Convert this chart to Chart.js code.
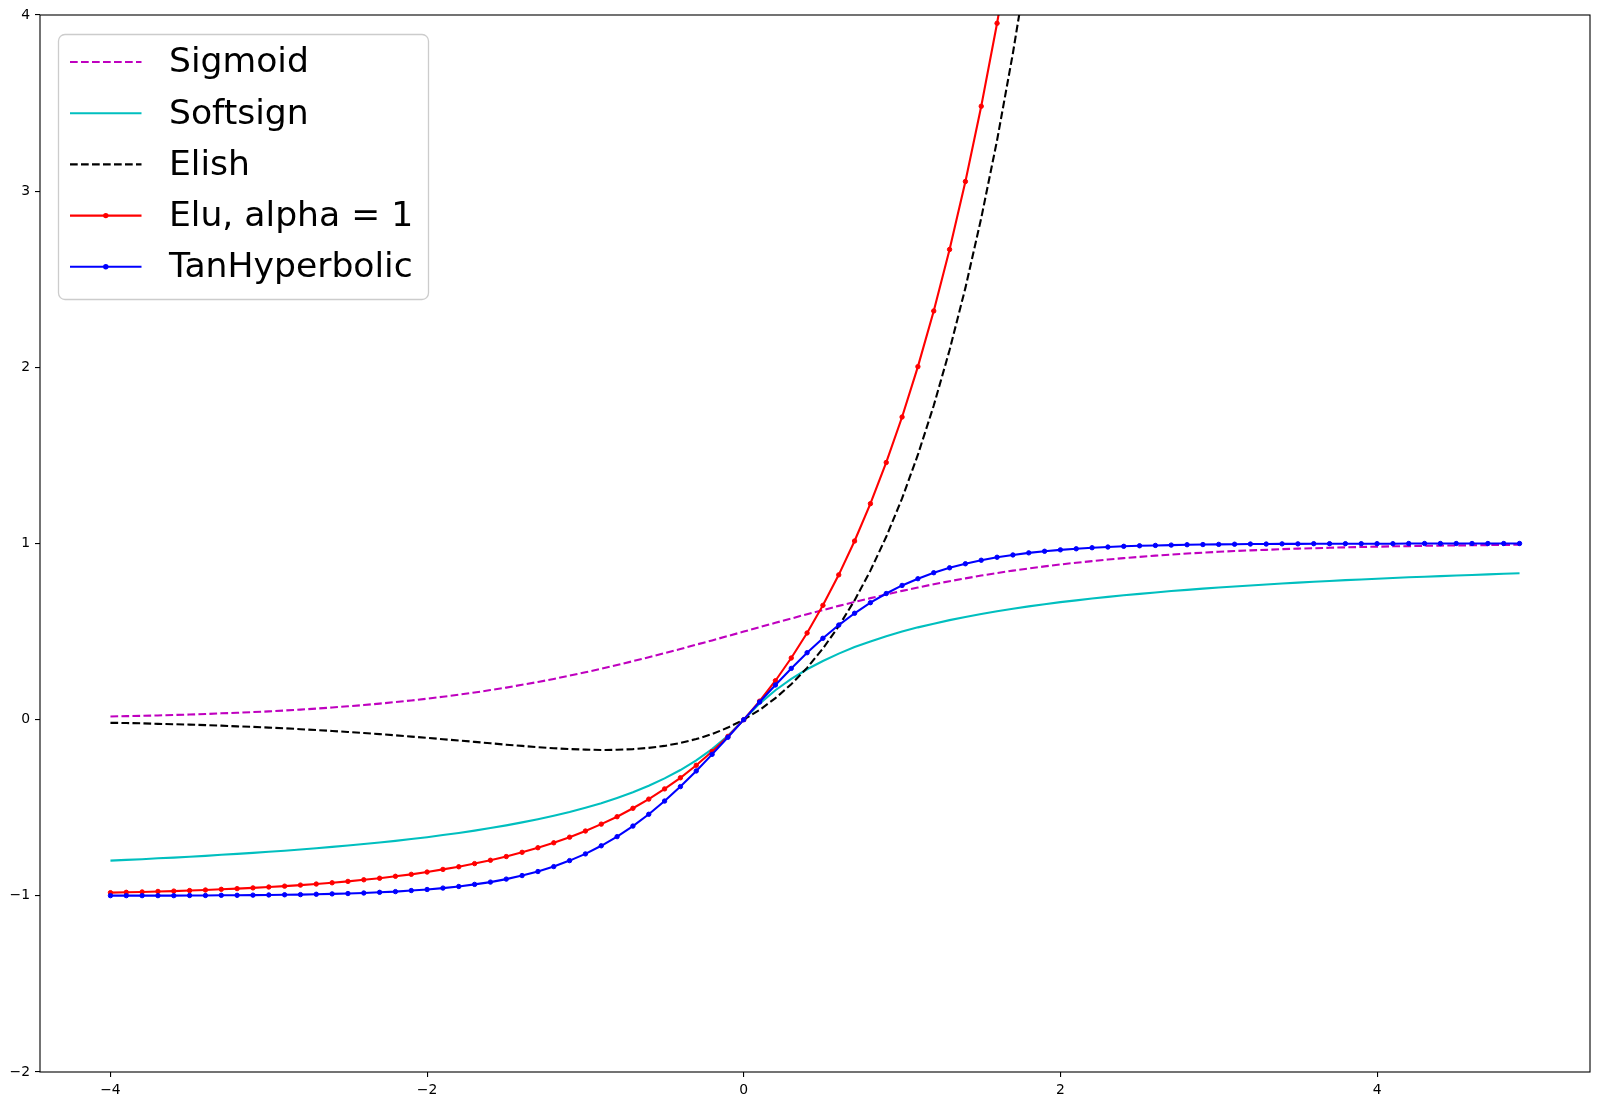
<!DOCTYPE html>
<html>
<head>
<meta charset="utf-8">
<title>Activation functions</title>
<script src="https://cdn.jsdelivr.net/npm/chart.js@4.4.1/dist/chart.umd.min.js"></script>
<style>
    html, body { margin: 0; padding: 0; background: #ffffff; }
    canvas { display: block; }
</style>
</head>
<body>
<canvas id="actChart" width="1600" height="1106"></canvas>
<script>
// x grid, -4.0 .. 4.9 in steps of 0.1
const xValues = [
    -4.0, -3.9, -3.8, -3.7, -3.6, -3.5, -3.4, -3.3, -3.2, -3.1,
    -3.0, -2.9, -2.8, -2.7, -2.6, -2.5, -2.4, -2.3, -2.2, -2.1,
    -2.0, -1.9, -1.8, -1.7, -1.6, -1.5, -1.4, -1.3, -1.2, -1.1,
    -1.0, -0.9, -0.8, -0.7, -0.6, -0.5, -0.4, -0.3, -0.2, -0.1,
    0.0, 0.1, 0.2, 0.3, 0.4, 0.5, 0.6, 0.7, 0.8, 0.9,
    1.0, 1.1, 1.2, 1.3, 1.4, 1.5, 1.6, 1.7, 1.8, 1.9,
    2.0, 2.1, 2.2, 2.3, 2.4, 2.5, 2.6, 2.7, 2.8, 2.9,
    3.0, 3.1, 3.2, 3.3, 3.4, 3.5, 3.6, 3.7, 3.8, 3.9,
    4.0, 4.1, 4.2, 4.3, 4.4, 4.5, 4.6, 4.7, 4.8, 4.9
];

const sigmoidValues = [
    0.018, 0.020, 0.022, 0.024, 0.027, 0.029, 0.032, 0.036, 0.039, 0.043,
    0.047, 0.052, 0.057, 0.063, 0.069, 0.076, 0.083, 0.091, 0.100, 0.109,
    0.119, 0.130, 0.142, 0.154, 0.168, 0.182, 0.198, 0.214, 0.231, 0.250,
    0.269, 0.289, 0.310, 0.332, 0.354, 0.378, 0.401, 0.426, 0.450, 0.475,
    0.500, 0.525, 0.550, 0.574, 0.599, 0.622, 0.646, 0.668, 0.690, 0.711,
    0.731, 0.750, 0.769, 0.786, 0.802, 0.818, 0.832, 0.846, 0.858, 0.870,
    0.881, 0.891, 0.900, 0.909, 0.917, 0.924, 0.931, 0.937, 0.943, 0.948,
    0.953, 0.957, 0.961, 0.964, 0.968, 0.971, 0.973, 0.976, 0.978, 0.980,
    0.982, 0.984, 0.985, 0.987, 0.988, 0.989, 0.990, 0.991, 0.992, 0.993
];

const softsignValues = [
    -0.800, -0.796, -0.792, -0.787, -0.783, -0.778, -0.773, -0.767, -0.762, -0.756,
    -0.750, -0.744, -0.737, -0.730, -0.722, -0.714, -0.706, -0.697, -0.688, -0.677,
    -0.667, -0.655, -0.643, -0.630, -0.615, -0.600, -0.583, -0.565, -0.545, -0.524,
    -0.500, -0.474, -0.444, -0.412, -0.375, -0.333, -0.286, -0.231, -0.167, -0.091,
    0.000, 0.091, 0.167, 0.231, 0.286, 0.333, 0.375, 0.412, 0.444, 0.474,
    0.500, 0.524, 0.545, 0.565, 0.583, 0.600, 0.615, 0.630, 0.643, 0.655,
    0.667, 0.677, 0.688, 0.697, 0.706, 0.714, 0.722, 0.730, 0.737, 0.744,
    0.750, 0.756, 0.762, 0.767, 0.773, 0.778, 0.783, 0.787, 0.792, 0.796,
    0.800, 0.804, 0.808, 0.811, 0.815, 0.818, 0.821, 0.825, 0.828, 0.831
];

const elishValues = [
    -0.018, -0.019, -0.021, -0.024, -0.026, -0.028, -0.031, -0.034, -0.038, -0.041,
    -0.045, -0.049, -0.054, -0.059, -0.064, -0.070, -0.076, -0.082, -0.089, -0.096,
    -0.103, -0.111, -0.118, -0.126, -0.134, -0.142, -0.149, -0.156, -0.162, -0.167,
    -0.170, -0.172, -0.171, -0.167, -0.160, -0.149, -0.132, -0.110, -0.082, -0.045,
    0.000, 0.055, 0.122, 0.201, 0.294, 0.404, 0.531, 0.677, 0.846, 1.038,
    1.256, 1.504, 1.783, 2.098, 2.451, 2.847, 3.289, 3.783, 4.333, 4.946,
    5.628, 6.384, 7.225, 8.156, 9.190, 10.334, 11.602, 13.006, 14.559, 16.278,
    18.180, 20.284, 22.611, 25.184, 28.029, 31.174, 34.651, 38.496, 42.745, 47.442,
    52.634, 58.373, 64.716, 71.727, 79.475, 88.039, 97.504, 107.965, 119.527, 132.305
];

const eluValues = [
    -0.982, -0.980, -0.978, -0.975, -0.973, -0.970, -0.967, -0.963, -0.959, -0.955,
    -0.950, -0.945, -0.939, -0.933, -0.926, -0.918, -0.909, -0.900, -0.889, -0.878,
    -0.865, -0.850, -0.835, -0.817, -0.798, -0.777, -0.753, -0.727, -0.699, -0.667,
    -0.632, -0.593, -0.551, -0.503, -0.451, -0.393, -0.330, -0.259, -0.181, -0.095,
    0.000, 0.105, 0.221, 0.350, 0.492, 0.649, 0.822, 1.014, 1.226, 1.460,
    1.718, 2.004, 2.320, 2.669, 3.055, 3.482, 3.953, 4.474, 5.050, 5.686,
    6.389, 7.166, 8.025, 8.974, 10.023, 11.182, 12.464, 13.880, 15.445, 17.174,
    19.086, 21.198, 23.533, 26.113, 28.964, 32.115, 35.598, 39.447, 43.701, 48.402,
    53.598, 59.340, 65.686, 72.700, 80.451, 89.017, 98.484, 108.947, 120.510, 133.290
];

const tanhValues = [
    -0.999, -0.999, -0.999, -0.999, -0.999, -0.998, -0.998, -0.997, -0.997, -0.996,
    -0.995, -0.994, -0.993, -0.991, -0.989, -0.987, -0.984, -0.980, -0.976, -0.970,
    -0.964, -0.956, -0.947, -0.935, -0.922, -0.905, -0.885, -0.862, -0.834, -0.800,
    -0.762, -0.716, -0.664, -0.604, -0.537, -0.462, -0.380, -0.291, -0.197, -0.100,
    0.000, 0.100, 0.197, 0.291, 0.380, 0.462, 0.537, 0.604, 0.664, 0.716,
    0.762, 0.800, 0.834, 0.862, 0.885, 0.905, 0.922, 0.935, 0.947, 0.956,
    0.964, 0.970, 0.976, 0.980, 0.984, 0.987, 0.989, 0.991, 0.993, 0.994,
    0.995, 0.996, 0.997, 0.997, 0.998, 0.998, 0.999, 0.999, 0.999, 0.999,
    0.999, 0.999, 1.000, 1.000, 1.000, 1.000, 1.000, 1.000, 1.000, 1.000
];

const seriesNames = ['Sigmoid', 'Softsign', 'Elish', 'Elu, alpha = 1', 'TanHyperbolic'];
const xTicks = [-4, -2, 0, 2, 4];
const xRange = [-4.445, 5.345];
const yRange = [-2, 4];

function toPoints(ys) {
    return xValues.map((x, i) => ({ x: x, y: ys[i] }));
}

function minusSign(value) {
    return String(value).replace('-', '\u2212');
}

// plot frame on all four sides, like matplotlib axes spines
const framePlugin = {
    id: 'frame',
    afterDatasetsDraw(chart) {
        const ctx = chart.ctx;
        const a = chart.chartArea;
        ctx.save();
        ctx.strokeStyle = '#000000';
        ctx.lineWidth = 1.1;
        ctx.strokeRect(a.left, a.top, a.right - a.left, a.bottom - a.top);
        ctx.restore();
    }
};

// legend box in the upper left corner
const legendPlugin = {
    id: 'mplLegend',
    afterDraw(chart) {
        const ctx = chart.ctx;
        ctx.save();
        ctx.beginPath();
        ctx.roundRect(58.5, 34.5, 370, 265, 6.5);
        ctx.fillStyle = 'rgba(255,255,255,0.8)';
        ctx.fill();
        ctx.strokeStyle = '#cccccc';
        ctx.lineWidth = 1.3;
        ctx.stroke();

        ctx.font = '34.6px "DejaVu Sans"';
        ctx.textBaseline = 'middle';
        ctx.textAlign = 'left';
        chart.data.datasets.forEach((ds, i) => {
            const y = 62 + i * 51.2;
            ctx.beginPath();
            ctx.setLineDash(ds.borderDash || []);
            ctx.strokeStyle = ds.borderColor;
            ctx.lineWidth = ds.borderWidth;
            ctx.moveTo(70, y);
            ctx.lineTo(141.5, y);
            ctx.stroke();
            ctx.setLineDash([]);
            if (ds.pointRadius > 0) {
                ctx.beginPath();
                ctx.arc(105.8, y, ds.pointRadius + 0.5, 0, Math.PI * 2);
                ctx.fillStyle = ds.borderColor;
                ctx.fill();
            }
            ctx.fillStyle = '#000000';
            ctx.fillText(ds.label, 169, y + 1.5);
        });
        ctx.restore();
    }
};

window.addEventListener('DOMContentLoaded', function() {
    const ctx = document.getElementById('actChart').getContext('2d');
    new Chart(ctx, {
        type: 'line',
        data: {
            datasets: [
                {
                    label: seriesNames[0],
                    data: toPoints(sigmoidValues),
                    borderColor: '#bf00bf',
                    borderWidth: 2.1,
                    borderDash: [7.7, 3.3],
                    pointRadius: 0,
                    order: 4
                },
                {
                    label: seriesNames[1],
                    data: toPoints(softsignValues),
                    borderColor: '#00bfbf',
                    borderWidth: 2.1,
                    pointRadius: 0,
                    order: 3
                },
                {
                    label: seriesNames[2],
                    data: toPoints(elishValues),
                    borderColor: '#000000',
                    borderWidth: 2.1,
                    borderDash: [7.7, 3.3],
                    pointRadius: 0,
                    order: 2
                },
                {
                    label: seriesNames[3],
                    data: toPoints(eluValues),
                    borderColor: '#ff0000',
                    backgroundColor: '#ff0000',
                    borderWidth: 2.1,
                    pointRadius: 2.2,
                    pointBorderWidth: 1,
                    pointBackgroundColor: '#ff0000',
                    pointBorderColor: '#ff0000',
                    order: 1
                },
                {
                    label: seriesNames[4],
                    data: toPoints(tanhValues),
                    borderColor: '#0000ff',
                    backgroundColor: '#0000ff',
                    borderWidth: 2.1,
                    pointRadius: 2.2,
                    pointBorderWidth: 1,
                    pointBackgroundColor: '#0000ff',
                    pointBorderColor: '#0000ff',
                    order: 0
                }
            ]
        },
        options: {
            responsive: false,
            animation: false,
            devicePixelRatio: 1,
            layout: { padding: { top: 15, right: 10, left: 0, bottom: 0 } },
            plugins: {
                legend: { display: false },
                tooltip: { enabled: false }
            },
            elements: { line: { tension: 0, fill: false } },
            scales: {
                x: {
                    type: 'linear',
                    min: xRange[0],
                    max: xRange[1],
                    border: { display: false },
                    grid: {
                        display: true,
                        drawOnChartArea: false,
                        drawTicks: true,
                        tickLength: 5,
                        color: '#000000',
                        lineWidth: 1.1
                    },
                    ticks: {
                        color: '#000000',
                        padding: 5,
                        maxRotation: 0,
                        font: { family: "'DejaVu Sans'", size: 13.9 },
                        callback: minusSign
                    },
                    afterBuildTicks(scale) {
                        scale.ticks = xTicks.map(v => ({ value: v }));
                    },
                    afterFit(scale) {
                        scale.height = 34;
                    }
                },
                y: {
                    type: 'linear',
                    min: yRange[0],
                    max: yRange[1],
                    border: { display: false },
                    grid: {
                        display: true,
                        drawOnChartArea: false,
                        drawTicks: true,
                        tickLength: 5,
                        color: '#000000',
                        lineWidth: 1.1
                    },
                    ticks: {
                        stepSize: 1,
                        color: '#000000',
                        padding: 5,
                        font: { family: "'DejaVu Sans'", size: 13.9 },
                        callback: minusSign
                    },
                    afterFit(scale) {
                        scale.width = 40;
                    }
                }
            }
        },
        plugins: [framePlugin, legendPlugin]
    });
});
</script>
</body>
</html>
